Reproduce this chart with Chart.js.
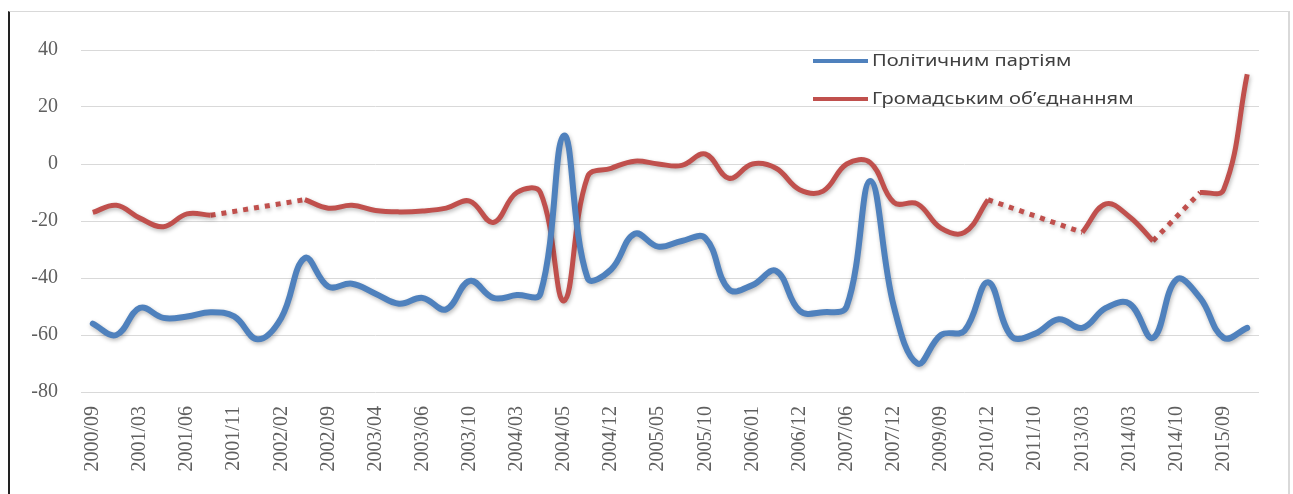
<!DOCTYPE html>
<html>
<head>
<meta charset="utf-8">
<script src="https://cdn.jsdelivr.net/npm/chart.js@4/dist/chart.umd.min.js"></script>
<style>
    html, body { margin: 0; padding: 0; background: #fff; }
    #frame {
        position: absolute; left: 8px; top: 11px; width: 1278px; height: 483px;
        border-left: 2px solid #222; border-top: 1px solid #d9d9d9; border-right: 2px solid #d9d9d9;
    }
    canvas { display: block; }
</style>
</head>
<body>
<div id="frame"><canvas id="chartPolls" width="1278" height="482"></canvas></div>
<script>
// every other category carries a label, the rest are unlabeled survey points
var tickLabels = ['2000/09', '2001/03', '2001/06', '2001/11', '2002/02', '2002/09', '2003/04', '2003/06',
    '2003/10', '2004/03', '2004/05', '2004/12', '2005/05', '2005/10', '2006/01', '2006/12', '2007/06',
    '2007/12', '2009/09', '2010/12', '2011/10', '2013/03', '2014/03', '2014/10', '2015/09'];

var seriesNames = ['Політичним партіям', 'Громадським об’єднанням'];

var parties = [-56, -60, -50.5, -54, -53.5, -52, -53.5, -61.5, -54, -33,
    -43, -42, -45.5, -49, -47, -51, -41, -47, -46, -45.5,
    10, -40, -37, -24.5, -29, -27, -26, -44, -42.5, -37.5,
    -51.5, -52, -50, -6, -50, -70, -60, -58.5, -41.5, -60.5,
    -59.5, -54.5, -57.5, -50.5, -49, -61, -40.5, -47, -61, -57.5];

var ngos = [-17, -14.5, -19, -22, -17.5, -18, null, null, null, -12.5,
    -15.5, -14.5, -16.3, -16.8, -16.5, -15.5, -13, -20.5, -10, -10,
    -48, -4.5, -1.5, 1, 0, -0.5, 3.5, -5, 0, -1.5,
    -9, -9.5, 0, 0.5, -13.5, -14, -22.5, -24, -12.5, null,
    null, null, -24, -14, -18.5, -27, null, -10, -9, 31.5];

var colors = ['#4F81BD', '#C0504D'];

var categories = [];
for (var i = 0; i < tickLabels.length; i++) {
    categories.push(tickLabels[i]);
    categories.push('');
}

// endpoints around the missing NGO values, joined by straight dotted lines
var ngoGapEnds = ngos.map(function (v, k) {
    if (v === null) return null;
    var before = k > 0 && ngos[k - 1] === null;
    var after = k < ngos.length - 1 && ngos[k + 1] === null;
    return (before || after) ? v : null;
});

var tickFont = { family: "'Liberation Serif', 'DejaVu Serif', serif", size: 20 };

// soft drop shadow under the lines, like the office chart
var shadowPlugin = {
    id: 'lineShadow',
    beforeDatasetDraw: function (chart) {
        var ctx = chart.ctx;
        ctx.save();
        ctx.shadowColor = 'rgba(0,0,0,0.28)';
        ctx.shadowBlur = 4;
        ctx.shadowOffsetX = 1;
        ctx.shadowOffsetY = 2;
    },
    afterDatasetDraw: function (chart) {
        chart.ctx.restore();
    }
};

// legend sits inside the plot, top right
var insideLegend = {
    id: 'insideLegend',
    afterDraw: function (chart) {
        var ctx = chart.ctx;
        var area = chart.chartArea;
        var x0 = area.right - 446;
        var y0 = area.top + 11;
        ctx.save();
        ctx.font = "17px 'Noto Sans', 'Open Sans', sans-serif";
        ctx.textBaseline = 'middle';
        chart.data.datasets.slice(0, 2).forEach(function (ds, k) {
            var y = y0 + k * 38;
            ctx.strokeStyle = ds.borderColor;
            ctx.lineWidth = 4;
            ctx.beginPath();
            ctx.moveTo(x0, y);
            ctx.lineTo(x0 + 55, y);
            ctx.stroke();
            ctx.save();
            ctx.translate(x0 + 59, y);
            ctx.scale(1.18, 1);
            ctx.fillStyle = '#404040';
            ctx.fillText(ds.label, 0, 0);
            ctx.restore();
        });
        ctx.restore();
    }
};

var ctx = document.getElementById('chartPolls');

var dataChart = {
    labels: categories,
    datasets: [
        {
            label: seriesNames[0],
            data: parties,
            borderColor: colors[0],
            backgroundColor: colors[0],
            borderWidth: 6,
            borderJoinStyle: 'round',
            borderCapStyle: 'round',
            tension: 0.4,
            pointRadius: 0,
            fill: false
        },
        {
            label: seriesNames[1],
            data: ngos,
            borderColor: colors[1],
            backgroundColor: colors[1],
            borderWidth: 5,
            borderJoinStyle: 'round',
            borderCapStyle: 'butt',
            tension: 0.4,
            pointRadius: 0,
            fill: false,
            spanGaps: false
        },
        {
            label: 'gaps',
            data: ngoGapEnds,
            borderColor: colors[1],
            borderWidth: 5,
            borderCapStyle: 'butt',
            borderDash: [5, 6],
            tension: 0,
            pointRadius: 0,
            fill: false,
            spanGaps: true,
            segment: {
                // only draw spans that actually bridge missing values
                borderColor: function (c) {
                    return ngos[c.p1DataIndex - 1] === null ? colors[1] : 'rgba(0,0,0,0)';
                }
            }
        }
    ]
};

var pollChart = new Chart(ctx, {
    type: 'line',
    data: dataChart,
    plugins: [shadowPlugin, insideLegend],
    options: {
        responsive: false,
        animation: false,
        devicePixelRatio: 1,
        layout: { padding: { top: 38, right: 29, left: 0, bottom: 0 } },
        plugins: {
            legend: { display: false },
            tooltip: { enabled: false }
        },
        scales: {
            x: {
                offset: true,
                grid: { display: false },
                border: { display: false },
                ticks: {
                    autoSkip: false,
                    minRotation: 90,
                    maxRotation: 90,
                    padding: 6,
                    color: '#5f5f5f',
                    font: tickFont
                },
                afterFit: function (s) { s.height = 102; }
            },
            y: {
                min: -80,
                max: 40,
                grid: { color: '#d9d9d9', lineWidth: 1, drawTicks: false },
                border: { display: false },
                ticks: {
                    stepSize: 20,
                    padding: 23,
                    color: '#5f5f5f',
                    font: tickFont
                },
                afterFit: function (s) { s.width = 71; }
            }
        }
    }
});
</script>
</body>
</html>
